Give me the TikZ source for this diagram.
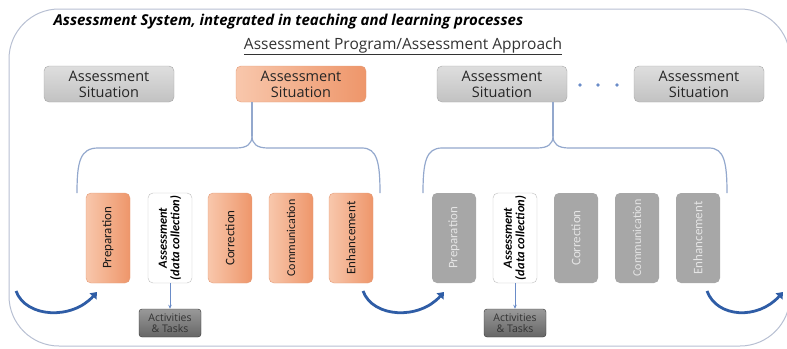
\documentclass[tikz,border=0pt]{standalone}
\usepackage{fontspec}
\setmainfont{Carlito}
\newfontfamily\labelfont{Open Sans}
\usetikzlibrary{shapes,arrows.meta}

\definecolor{framegray}{HTML}{B7BFD2}
\definecolor{bracecol}{HTML}{93A8CD}
\definecolor{orangelight}{HTML}{F8C7AC}
\definecolor{orangedark}{HTML}{EE966A}
\definecolor{orangeline}{HTML}{E49C78}
\definecolor{sitlight}{HTML}{DEDEDE}
\definecolor{sitdark}{HTML}{C2C2C2}
\definecolor{stepgray}{HTML}{A7A7A7}
\definecolor{cycleblue}{HTML}{2F5DA6}
\definecolor{taskblue}{HTML}{6A8CC8}

\begin{document}
\begin{tikzpicture}[x=1pt,y=-1pt]
		\tikzstyle {situation} = [draw=sitdark!85!black, rounded corners=5pt, top color=sitlight, bottom color=sitdark, minimum width=130pt, minimum height=36pt, align=center, text=black!85, font=\labelfont\fontsize{14.5}{16}\selectfont]
		\tikzstyle {active situation} = [situation, draw=orangeline, left color=orangelight, right color=orangedark]
		\tikzstyle {stepbox} = [rotate=90, rounded corners=5pt, minimum width=90pt, minimum height=44pt, inner sep=1pt, align=center, font=\fontsize{13}{13}\selectfont]
		\tikzstyle {orange step} = [stepbox, draw=orangeline, left color=orangelight, right color=orangedark, text=black!90]
		\tikzstyle {gray step} = [stepbox, fill=stepgray, text=white!90!black]
		\tikzstyle {data step} = [stepbox, draw=black!25, fill=white, text=black, font=\bfseries\itshape\fontsize{12.5}{12.5}\selectfont]
		\tikzstyle {task} = [draw=black!80, rounded corners=3pt, top color=black!40, bottom color=black!60, minimum width=62pt, minimum height=28pt, inner sep=0.5pt, align=center, text=black!80, font=\labelfont\fontsize{10.5}{11.5}\selectfont]
		\tikzstyle {brace} = [bracecol, line width=1.2pt]
		\tikzstyle {cycle arrow} = [cycleblue, line width=2.8pt, -{Triangle[length=6pt,width=9pt]}]
		\tikzstyle {dot} = [circle, fill=taskblue, inner sep=0pt, minimum size=3.6pt]

		\useasboundingbox (0,0) rectangle (787,348);
		\clip (0,0) rectangle (787,348);

		% outer frame
		\draw[framegray, line width=1pt, rounded corners=50pt] (9,9) rectangle (790,346);

		\node[anchor=west, font=\labelfont\bfseries\itshape\fontsize{15}{17}\selectfont] (title) at (50,22) {Assessment System, integrated in teaching and learning processes};
		\node[text=black!80, font=\labelfont\fontsize{15.5}{17}\selectfont] (program) at (403,46) {\underline{Assessment Program/Assessment Approach}};

		% assessment situations
		\node[situation] (sit1) at (109,84) {Assessment\\Situation};
		\node[active situation] (sit2) at (301,84) {Assessment\\Situation};
		\node[situation] (sit3) at (502,84) {Assessment\\Situation};
		\node[situation] (sit4) at (699,84) {Assessment\\Situation};

		\node[dot] (dot1) at (580,85) {};
		\node[dot] (dot2) at (598,85) {};
		\node[dot] (dot3) at (617,85) {};

		% steps of the active situation
		\node[orange step] (prep1) at (108,238) {Preparation};
		\node[data step] (ass1) at (170,238) {Assessment\\(data collection)};
		\node[orange step] (corr1) at (230,238) {Correction};
		\node[orange step, font=\fontsize{12}{12}\selectfont] (comm1) at (291,238) {Communication};
		\node[orange step] (enh1) at (351,238) {Enhancement};

		% steps of the next situation
		\node[gray step] (prep2) at (454,238) {Preparation};
		\node[data step] (ass2) at (515,238) {Assessment\\(data collection)};
		\node[gray step] (corr2) at (576,238) {Correction};
		\node[gray step, font=\fontsize{12}{12}\selectfont] (comm2) at (637,238) {Communication};
		\node[gray step] (enh2) at (698,238) {Enhancement};

		\node[task] (task1) at (170,323) {Activities\\\& Tasks};
		\node[task] (task2) at (515,323) {Activities\\\& Tasks};

		\draw[taskblue, line width=0.8pt, -{Stealth[length=4pt,width=3.5pt]}] (ass1) -- (task1);
		\draw[taskblue, line width=0.8pt, -{Stealth[length=4pt,width=3.5pt]}] (ass2) -- (task2);

		% braces
		\coordinate (tip1) at (252,136);
		\coordinate (tip2) at (553,136);
		\draw[brace] (sit2.south -| tip1) -- (tip1);
		\draw[brace] (77,193) .. controls (77,162) and (80,148) .. (98,148) -- (236,148) .. controls (247,148) and (252,144) .. (tip1);
		\draw[brace] (380,193) .. controls (380,162) and (377,148) .. (362,148) -- (268,148) .. controls (257,148) and (252,144) .. (tip1);
		\draw[brace] (sit3.south -| tip2) -- (tip2);
		\draw[brace] (423,193) .. controls (423,162) and (426,148) .. (442,148) -- (537,148) .. controls (548,148) and (553,144) .. (tip2);
		\draw[brace] (727,193) .. controls (727,162) and (724,148) .. (709,148) -- (569,148) .. controls (558,148) and (553,144) .. (tip2);

		% cycle arrows
		\coordinate (loop0a) at (16,291);
		\coordinate (loop0b) at (97,292);
		\coordinate (loop1a) at (363,291);
		\coordinate (loop1b) at (444,292);
		\coordinate (loop2a) at (707,291);
		\coordinate (loop2b) at (783,292);
		\draw[cycle arrow] (loop0a) .. controls (26,318) and (72,320) .. (loop0b);
		\draw[cycle arrow] (loop1a) .. controls (373,318) and (419,320) .. (loop1b);
		\draw[cycle arrow] (loop2a) .. controls (717,318) and (758,320) .. (loop2b);
	\end{tikzpicture}
\end{document}
